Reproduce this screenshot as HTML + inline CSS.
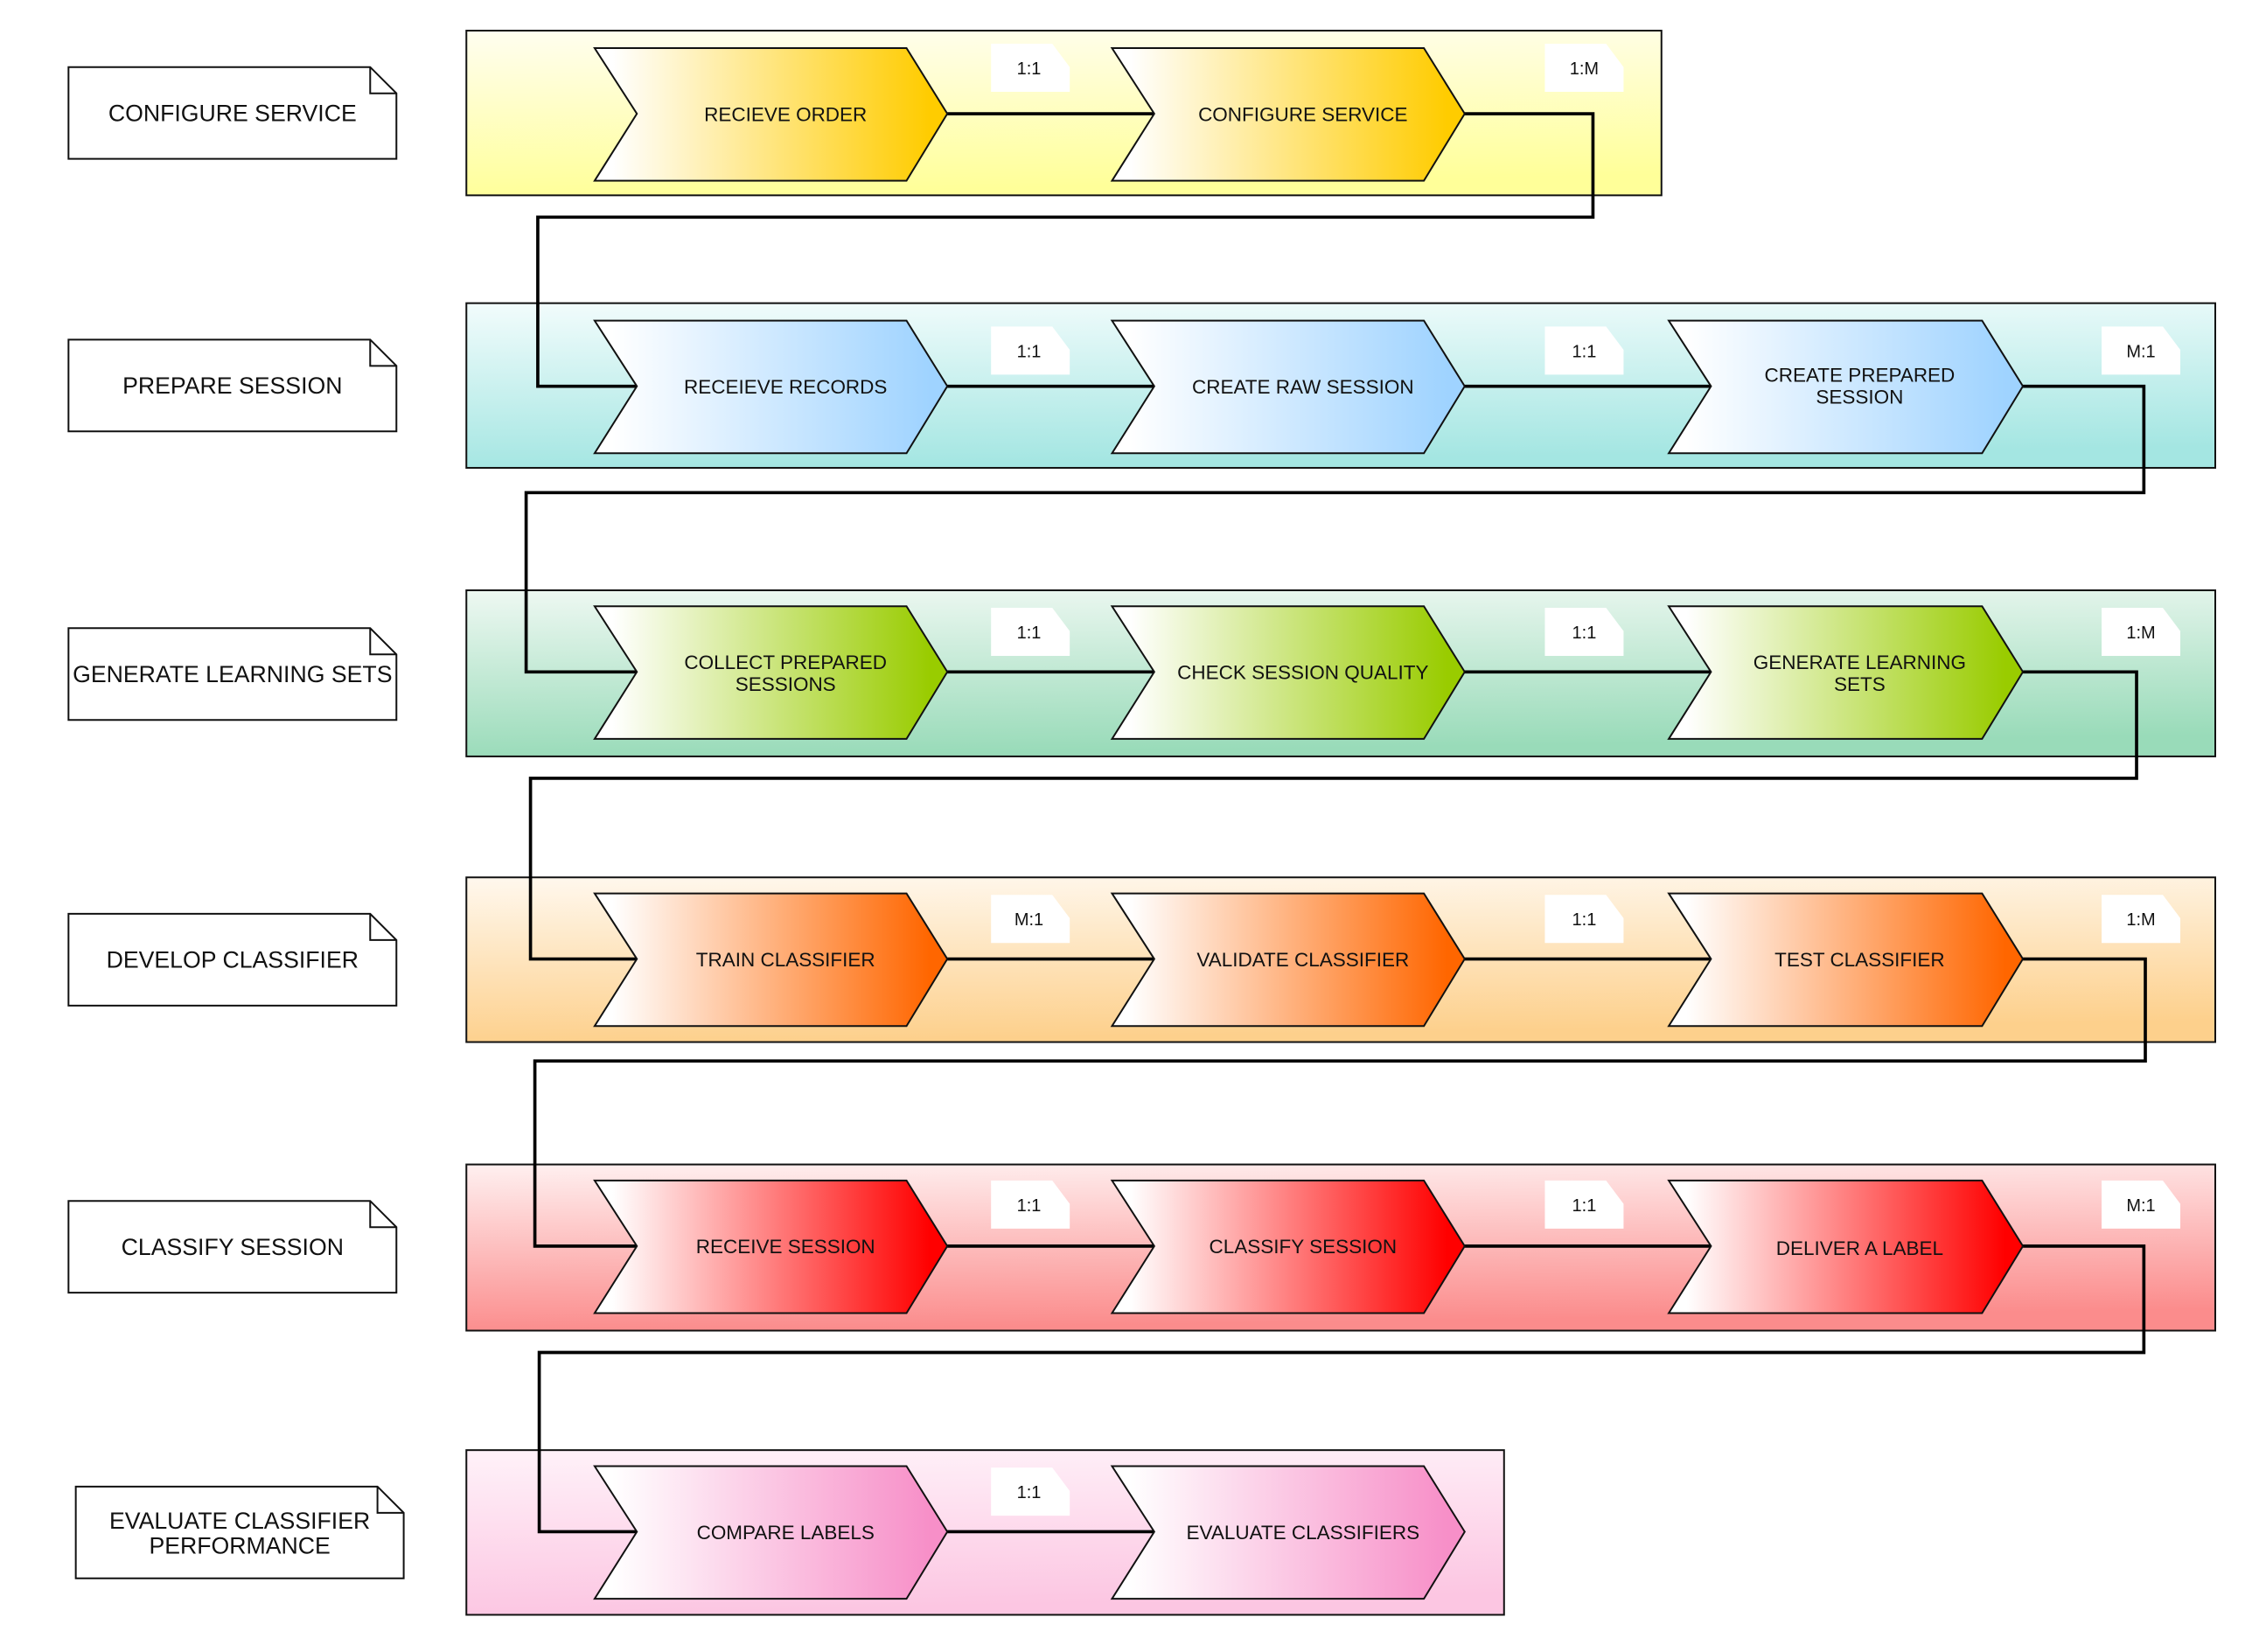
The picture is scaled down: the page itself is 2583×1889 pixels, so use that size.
<!DOCTYPE html>
<html><head><meta charset="utf-8"><style>
html,body{margin:0;padding:0;background:#fff;}
svg{display:block;}
text{font-family:"Liberation Sans",sans-serif;fill:#111;}
</style></head><body>
<svg width="2583" height="1889" viewBox="0 0 1550 1133.5" xmlns="http://www.w3.org/2000/svg">
<defs>
<linearGradient id="l1" x1="0" y1="0" x2="0.15" y2="1"><stop offset="0" stop-color="#fffef0"/><stop offset="1" stop-color="#ffff99"/></linearGradient>
<linearGradient id="l2" x1="0" y1="0" x2="0.15" y2="1"><stop offset="0" stop-color="#f2fcfc"/><stop offset="1" stop-color="#a4e6e2"/></linearGradient>
<linearGradient id="l3" x1="0" y1="0" x2="0.15" y2="1"><stop offset="0" stop-color="#eef8f2"/><stop offset="1" stop-color="#99dbb9"/></linearGradient>
<linearGradient id="l4" x1="0" y1="0" x2="0.15" y2="1"><stop offset="0" stop-color="#fff8ee"/><stop offset="1" stop-color="#fdd08c"/></linearGradient>
<linearGradient id="l5" x1="0" y1="0" x2="0.15" y2="1"><stop offset="0" stop-color="#fff0f0"/><stop offset="1" stop-color="#fb8c8c"/></linearGradient>
<linearGradient id="l6" x1="0" y1="0" x2="0.15" y2="1"><stop offset="0" stop-color="#fff2f9"/><stop offset="1" stop-color="#fcc6e2"/></linearGradient>
<linearGradient id="c1" x1="0" y1="0" x2="1" y2="0"><stop offset="0.05" stop-color="#ffffff"/><stop offset="0.95" stop-color="#ffcc00"/></linearGradient>
<linearGradient id="c2" x1="0" y1="0" x2="1" y2="0"><stop offset="0.05" stop-color="#ffffff"/><stop offset="0.95" stop-color="#9fd3ff"/></linearGradient>
<linearGradient id="c3" x1="0" y1="0" x2="1" y2="0"><stop offset="0.05" stop-color="#ffffff"/><stop offset="0.95" stop-color="#99cc00"/></linearGradient>
<linearGradient id="c4" x1="0" y1="0" x2="1" y2="0"><stop offset="0.05" stop-color="#ffffff"/><stop offset="0.95" stop-color="#ff6600"/></linearGradient>
<linearGradient id="c5" x1="0" y1="0" x2="1" y2="0"><stop offset="0.05" stop-color="#ffffff"/><stop offset="0.95" stop-color="#ff0000"/></linearGradient>
<linearGradient id="c6" x1="0" y1="0" x2="1" y2="0"><stop offset="0.05" stop-color="#ffffff"/><stop offset="0.95" stop-color="#f78fc8"/></linearGradient>
</defs>

<!-- lanes -->
<rect x="320" y="21" width="820" height="113" fill="url(#l1)" stroke="#111" stroke-width="1.2"/>
<rect x="320" y="208" width="1200" height="113" fill="url(#l2)" stroke="#111" stroke-width="1.2"/>
<rect x="320" y="405" width="1200" height="114" fill="url(#l3)" stroke="#111" stroke-width="1.2"/>
<rect x="320" y="602" width="1200" height="113" fill="url(#l4)" stroke="#111" stroke-width="1.2"/>
<rect x="320" y="799" width="1200" height="114" fill="url(#l5)" stroke="#111" stroke-width="1.2"/>
<rect x="320" y="995" width="712" height="113" fill="url(#l6)" stroke="#111" stroke-width="1.2"/>

<!-- left doc boxes -->
<g fill="#fff" stroke="#111" stroke-width="1.2">
<path d="M47,46 H254 L272,64 V109 H47 Z M254,46 V64 H272"/>
<path d="M47,233 H254 L272,251 V296 H47 Z M254,233 V251 H272"/>
<path d="M47,431 H254 L272,449 V494 H47 Z M254,431 V449 H272"/>
<path d="M47,627 H254 L272,645 V690 H47 Z M254,627 V645 H272"/>
<path d="M47,824 H254 L272,842 V887 H47 Z M254,824 V842 H272"/>
<path d="M52,1020 H259 L277,1038 V1083 H52 Z M259,1020 V1038 H277"/>
</g>
<g font-size="16" text-anchor="middle">
<text x="159.5" y="83">CONFIGURE SERVICE</text>
<text x="159.5" y="270">PREPARE SESSION</text>
<text x="159.5" y="468">GENERATE LEARNING SETS</text>
<text x="159.5" y="664">DEVELOP CLASSIFIER</text>
<text x="159.5" y="861">CLASSIFY SESSION</text>
<text x="164.5" y="1049">EVALUATE CLASSIFIER</text>
<text x="164.5" y="1066">PERFORMANCE</text>
</g>

<!-- connectors -->
<g fill="none" stroke="#000" stroke-width="2.2">
<path d="M650,78 H792"/>
<path d="M1005,78 H1093 V149 H369 V265 H437"/>
<path d="M650,265 H792 M1005,265 H1174"/>
<path d="M1388,265 H1471 V338 H361 V461 H437"/>
<path d="M650,461 H792 M1005,461 H1174"/>
<path d="M1388,461 H1466 V534 H364 V658 H437"/>
<path d="M650,658 H792 M1005,658 H1174"/>
<path d="M1388,658 H1472 V728 H367 V855 H437"/>
<path d="M650,855 H792 M1005,855 H1174"/>
<path d="M1388,855 H1471 V928 H370 V1051 H437"/>
<path d="M650,1051 H792"/>
</g>

<!-- chevrons -->
<g stroke="#111" stroke-width="1.2">
<polygon fill="url(#c1)" points="408,33 622,33 650,78 622,124 408,124 437,78"/>
<polygon fill="url(#c1)" points="763,33 977,33 1005,78 977,124 763,124 792,78"/>

<polygon fill="url(#c2)" points="408,220 622,220 650,265 622,311 408,311 437,265"/>
<polygon fill="url(#c2)" points="763,220 977,220 1005,265 977,311 763,311 792,265"/>
<polygon fill="url(#c2)" points="1145,220 1360,220 1388,265 1360,311 1145,311 1174,265"/>

<polygon fill="url(#c3)" points="408,416 622,416 650,461 622,507 408,507 437,461"/>
<polygon fill="url(#c3)" points="763,416 977,416 1005,461 977,507 763,507 792,461"/>
<polygon fill="url(#c3)" points="1145,416 1360,416 1388,461 1360,507 1145,507 1174,461"/>

<polygon fill="url(#c4)" points="408,613 622,613 650,658 622,704 408,704 437,658"/>
<polygon fill="url(#c4)" points="763,613 977,613 1005,658 977,704 763,704 792,658"/>
<polygon fill="url(#c4)" points="1145,613 1360,613 1388,658 1360,704 1145,704 1174,658"/>

<polygon fill="url(#c5)" points="408,810 622,810 650,855 622,901 408,901 437,855"/>
<polygon fill="url(#c5)" points="763,810 977,810 1005,855 977,901 763,901 792,855"/>
<polygon fill="url(#c5)" points="1145,810 1360,810 1388,855 1360,901 1145,901 1174,855"/>

<polygon fill="url(#c6)" points="408,1006 622,1006 650,1051 622,1097 408,1097 437,1051"/>
<polygon fill="url(#c6)" points="763,1006 977,1006 1005,1051 977,1097 763,1097 792,1051"/>
</g>

<g font-size="13.5" text-anchor="middle">
<text x="539" y="83">RECIEVE ORDER</text>
<text x="894" y="83">CONFIGURE SERVICE</text>
<text x="539" y="270">RECEIEVE RECORDS</text>
<text x="894" y="270">CREATE RAW SESSION</text>
<text x="1276" y="262">CREATE PREPARED</text>
<text x="1276" y="277">SESSION</text>
<text x="539" y="459">COLLECT PREPARED</text>
<text x="539" y="474">SESSIONS</text>
<text x="894" y="466">CHECK SESSION QUALITY</text>
<text x="1276" y="459">GENERATE LEARNING</text>
<text x="1276" y="474">SETS</text>
<text x="539" y="663">TRAIN CLASSIFIER</text>
<text x="894" y="663">VALIDATE CLASSIFIER</text>
<text x="1276" y="663">TEST CLASSIFIER</text>
<text x="539" y="860">RECEIVE SESSION</text>
<text x="894" y="860">CLASSIFY SESSION</text>
<text x="1276" y="861">DELIVER A LABEL</text>
<text x="539" y="1056">COMPARE LABELS</text>
<text x="894" y="1056">EVALUATE CLASSIFIERS</text>
</g>

<!-- ratio labels -->
<g fill="#fff">
<path d="M680,30 H722 L734,46 V63 H680 Z"/>
<path d="M1060,30 H1102 L1114,46 V63 H1060 Z"/>
<path d="M680,224 H722 L734,240 V257 H680 Z"/>
<path d="M1060,224 H1102 L1114,240 V257 H1060 Z"/>
<path d="M1442,224 H1484 L1496,240 V257 H1442 Z"/>
<path d="M680,417 H722 L734,433 V450 H680 Z"/>
<path d="M1060,417 H1102 L1114,433 V450 H1060 Z"/>
<path d="M1442,417 H1484 L1496,433 V450 H1442 Z"/>
<path d="M680,614 H722 L734,630 V647 H680 Z"/>
<path d="M1060,614 H1102 L1114,630 V647 H1060 Z"/>
<path d="M1442,614 H1484 L1496,630 V647 H1442 Z"/>
<path d="M680,810 H722 L734,826 V843 H680 Z"/>
<path d="M1060,810 H1102 L1114,826 V843 H1060 Z"/>
<path d="M1442,810 H1484 L1496,826 V843 H1442 Z"/>
<path d="M680,1007 H722 L734,1023 V1040 H680 Z"/>
</g>
<g font-size="12" text-anchor="middle">
<text x="706" y="51">1:1</text>
<text x="1087" y="51">1:M</text>
<text x="706" y="245">1:1</text>
<text x="1087" y="245">1:1</text>
<text x="1469" y="245">M:1</text>
<text x="706" y="438">1:1</text>
<text x="1087" y="438">1:1</text>
<text x="1469" y="438">1:M</text>
<text x="706" y="635">M:1</text>
<text x="1087" y="635">1:1</text>
<text x="1469" y="635">1:M</text>
<text x="706" y="831">1:1</text>
<text x="1087" y="831">1:1</text>
<text x="1469" y="831">M:1</text>
<text x="706" y="1028">1:1</text>
</g>
</svg>
</body></html>
